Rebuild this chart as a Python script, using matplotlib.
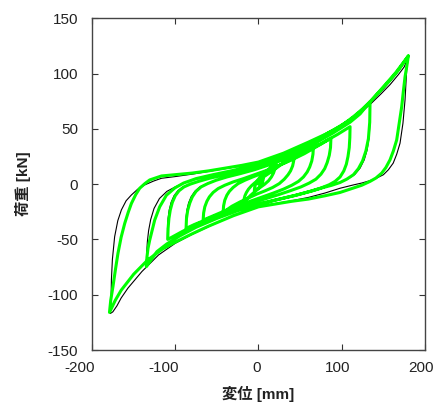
import matplotlib
matplotlib.use('Agg')
import matplotlib.pyplot as plt
import matplotlib.transforms as mtransforms
import numpy as np

plt.rcParams['font.family'] = ['Liberation Sans', 'Noto Sans CJK JP', 'DejaVu Sans']
plt.rcParams['axes.unicode_minus'] = False

# ---- data: (displacement mm, load kN) ----
# analysis (green) branches, in loading order
g_l0 = [(0, 0), (2, 3), (4, 5.5), (6, 7.5)]
g_d1 = [(6, 7.5), (5.6, 4), (4.5, 1), (2.5, -1.5), (0, -3.5), (-3, -5), (-5, -6)]
g_l1 = [(-5, -6), (-4.6, -3), (-3.5, 0), (-1.5, 3), (1.5, 6), (5.5, 9), (10, 12), (15, 15.5),
        (21, 20.5)]
g_d2 = [(21, 20.5), (20.6, 17), (19.6, 13.5), (18, 10), (15.5, 6.5), (12, 3), (7.5, 0), (2, -3),
        (-4, -6.5), (-10, -10.5), (-15, -14.5), (-18, -18)]
g_l2 = [(-18, -18), (-17.5, -14), (-16.3, -10.5), (-14.5, -7.5), (-12, -4.5), (-8.5, -1.5),
        (-4, 1.5), (2, 4.5), (9, 8), (17, 12), (25, 16.5), (34, 22), (43, 27.5)]
g_d3 = [(43, 27.5), (42.4, 21.5), (41, 16.5), (38.5, 12), (35.5, 8.5), (31, 4.5), (25, 0.5),
        (17, -3), (8, -6), (-2, -9), (-12, -12.5), (-22, -16), (-32, -20), (-42.5, -25.5)]
g_l3 = [(-42.5, -25.5), (-41.9, -19.5), (-40.5, -14.5), (-38, -10), (-35, -6.5), (-30.5, -3),
        (-24.5, 0.5), (-16.5, 3.5), (-7, 6.5), (5, 10), (18, 14.5), (32, 19.5), (45, 24.5), (56, 29),
        (66, 34)]
g_d4 = [(66, 34), (65.4, 27), (64, 21), (61.5, 15.5), (58.5, 11), (54, 6.5), (48, 2.5), (40, -1),
        (30, -4.5), (18, -8), (5, -11.5), (-10, -15.5), (-25, -19.5), (-40, -24), (-54, -28.5),
        (-66.5, -32.5)]
g_l4 = [(-66.5, -32.5), (-65.9, -26), (-64.5, -20.5), (-62, -15.5), (-59, -11.5), (-54.5, -7.5),
        (-48.5, -4), (-40.5, -1), (-30.5, 2), (-18, 5), (-5, 8.5), (10, 12.5), (25, 17), (40, 22),
        (55, 27.5), (70, 34), (87, 41.5)]
g_d5 = [(87, 41.5), (86.5, 33), (85, 26), (82.5, 19.5), (79.5, 14), (75, 9), (69, 4.5), (61, 1),
        (51, -2.5), (38, -6), (22, -10), (5, -14), (-12, -18), (-30, -22.5), (-48, -27.5),
        (-64, -32.5), (-77, -36.5), (-87, -40)]
g_l5 = [(-87, -40), (-86.5, -31), (-85, -23.5), (-82.5, -17), (-79.5, -11.5), (-75, -6.5),
        (-69, -2.5), (-61, 0.5), (-51, 3.5), (-38, 6.5), (-22, 9.5), (-5, 13), (15, 18), (35, 23.5),
        (55, 29.5), (75, 36.5), (95, 45), (110, 52)]
g_d6 = [(110, 52), (109.7, 42), (109, 33), (107.5, 25), (105.5, 18), (102.5, 12), (98, 6.5),
        (92, 2.5), (85, -0.5), (75, -3.5), (62, -6.5), (45, -10), (25, -13.5), (5, -17), (-15, -21),
        (-35, -25.5), (-55, -30.5), (-75, -36.5), (-92, -43), (-109, -50)]
g_l6 = [(-109, -50), (-108.6, -40), (-107.6, -31), (-106, -23.5), (-103.5, -16.5), (-100, -10.5),
        (-95.5, -6), (-89.5, -2.5), (-82, 0), (-72, 2.5), (-58, 5.5), (-40, 8.5), (-20, 12),
        (0, 16.5), (30, 24), (60, 33.5), (90, 46.5), (110, 56), (122, 63.5), (134, 74.5)]
g_d7 = [(134, 74.5), (133.6, 56), (132, 41), (129, 30), (125, 21), (120, 14), (114, 8.5), (106, 4.5),
        (98, 1.5), (88, -1), (78, -3), (65, -6), (45, -10), (20, -14.5), (0, -18.5), (-25, -24),
        (-50, -31), (-75, -39), (-95, -47), (-110, -54), (-122, -61), (-134.7, -74.6)]
g_l7 = [(-134.7, -74.6), (-134, -66), (-132.7, -58), (-130.8, -51), (-128.5, -44), (-124.7, -32.5),
        (-118.7, -20.5), (-110.6, -10), (-100.6, -3.5), (-90, 1), (-75, 5), (-55, 8.5), (-30, 12.5),
        (0, 18), (30, 26), (60, 36), (90, 49), (110, 58), (122, 65.5), (134, 74.5), (150, 88),
        (165, 101), (180, 116)]
g_d8 = [(180, 116), (178, 106), (176, 97), (174, 84), (172, 70), (169, 55), (166, 40), (162, 30),
        (158, 22), (153, 15), (148, 10), (141, 5.5), (134, 2.5), (124, -1), (114, -3.5), (98, -7.5),
        (80, -10.5), (60, -13.5), (40, -15.5), (20, -18), (0, -20.5), (-30, -28.5), (-60, -38),
        (-80, -45), (-100, -52.5), (-115, -58.5), (-133, -68.5), (-150, -81.5), (-165, -96),
        (-172, -105), (-179, -116)]
g_l9 = [(-179, -116), (-177.5, -105), (-174.8, -92.5), (-171.8, -77), (-168.8, -62.5), (-165, -48),
        (-160.7, -35.5), (-156.5, -25.5), (-152.7, -17.5), (-147.5, -9.5), (-142.7, -3.7),
        (-136.5, 0.5), (-130.7, 3.8), (-116.6, 7.4), (-100.6, 8.5), (-80, 10), (-60, 12), (-40, 14.5),
        (-20, 17), (0, 20), (30, 28), (60, 38), (80, 45), (98, 52), (114, 61), (125, 68), (136, 76),
        (147, 85), (158, 94), (168, 103), (180, 116)]

# test (black) branches where they part from the green ones
b_l5 = [(-87.5, -40), (-87.2, -31), (-86, -23.5), (-84, -17), (-81, -11.5), (-76.5, -6.5),
        (-70.5, -2.5), (-62, 0.5), (-51, 3.5), (-38, 6.5), (-22, 9.5), (-5, 13), (15, 18), (35, 23.5),
        (55, 29.5), (75, 36.5), (95, 45), (110, 52)]
b_l6 = [(-109.5, -50), (-109.3, -40), (-108.6, -31), (-107.3, -23.5), (-105, -16.5), (-101.5, -10.5),
        (-97, -6), (-91, -2.5), (-83, 0), (-72, 2.5), (-58, 5.5), (-40, 8.5), (-20, 12), (0, 16.5),
        (30, 24), (60, 33.5), (90, 46.5), (110, 56), (122, 63.5), (134, 74)]
b_d7 = [(134, 74), (134, 58), (133, 43), (130.5, 31), (127, 22), (122, 14.5), (116, 9), (108, 5),
        (99, 2), (88, -1), (78, -3), (65, -6), (45, -10), (20, -14.5), (0, -18.5), (-25, -24),
        (-50, -31), (-75, -39), (-95, -47), (-110, -54), (-122, -61), (-134.7, -74)]
b_l7 = [(-134.7, -74), (-134.3, -62), (-133.5, -52), (-132, -42), (-129.5, -32), (-125.5, -22),
        (-119, -13), (-110, -6.5), (-100, -2.5), (-90, 1), (-75, 4.5), (-55, 8), (-30, 12.5),
        (0, 17.5), (30, 25.5), (60, 35.5), (90, 48.5), (110, 57.5), (122, 65), (134, 73.5),
        (150, 86), (165, 99), (180, 115)]
b_d8 = [(180, 115), (179, 109), (178, 103), (177, 90), (176, 76), (173.5, 55), (170, 37), (166, 27),
        (161.8, 19), (156, 13), (150, 8.5), (142, 5.5), (134, 3.2), (124, 1), (114, -0.7), (98, -3.7),
        (80, -8), (60, -12), (40, -15), (20, -17.5), (0, -20), (-30, -28), (-60, -38.5), (-80, -45.5),
        (-100, -53.5), (-120, -64), (-140, -79), (-156.8, -94), (-165, -103), (-170, -110),
        (-175, -115.5), (-178, -117)]
b_l9 = [(-178, -117), (-177.5, -112), (-177, -100), (-176.7, -86.6), (-175.5, -68), (-172.8, -47.5),
        (-169, -33), (-164.7, -23.3), (-159, -15), (-152.7, -9.8), (-145, -4.5), (-136.7, -0.7),
        (-126, 2.8), (-116.6, 5.3), (-100.6, 6.8), (-80, 9), (-60, 11.5), (-40, 14), (-20, 16.5),
        (0, 19.5), (30, 27), (60, 37), (80, 44), (98, 51), (114, 59.5), (125, 66), (136, 73.5),
        (147, 81.5), (158, 90), (168, 99), (175, 106), (180, 115)]

green_path = [g_l0, g_d1, g_l1, g_d2, g_l2, g_d3, g_l3, g_d4, g_l4, g_d5, g_l5, g_d6, g_l6, g_d7,
              g_l7, g_d8, g_l9]
black_path = [g_l0, g_d1, g_l1, g_d2, g_l2, g_d3, g_l3, g_d4, g_l4, g_d5, b_l5, g_d6, b_l6, b_d7,
              b_l7, b_d8, b_l9]

x_ticks = [-200, -100, 0, 100, 200]
y_ticks = [-150, -100, -50, 0, 50, 100, 150]


def join(branches):
    pts = np.array([p for br in branches for p in br], dtype=float)
    return pts[:, 0], pts[:, 1]


fig = plt.figure(figsize=(4.35, 4.03), dpi=100)
ax = fig.add_axes([0.2115, 0.1315, 0.7655, 0.8231])

bx, by = join(black_path)
gx, gy = join(green_path)
ax.plot(bx, by, color='k', lw=0.8, solid_joinstyle='round')
ax.plot(gx, gy, color='#00ff00', lw=2.2, solid_joinstyle='round', solid_capstyle='round')

ax.set_xlim(-200, 200)
ax.set_ylim(-150, 150)
ax.set_xticks(x_ticks)
ax.set_yticks(y_ticks)
ax.tick_params(direction='in', top=True, right=True, length=4, width=0.8,
               labelsize=11, colors='#333333', labelcolor='#222222')
ax.tick_params(axis='x', pad=8)
ax.tick_params(axis='y', pad=10)
for s in ax.spines.values():
    s.set_color('#444444')
    s.set_linewidth(1.0)

# the x labels in the reference sit a little left of their ticks
for val, lab in zip(x_ticks, ax.get_xticklabels()):
    dx = -12 if val < 0 else (-2 if val == 0 else -4)
    shift = mtransforms.ScaledTranslation(dx / 100, 0, fig.dpi_scale_trans)
    lab.set_transform(lab.get_transform() + shift)

ax.set_xlabel('変位 [mm]', fontsize=11, fontweight='bold', color='#222222', labelpad=8)
ax.set_ylabel('荷重 [kN]', fontsize=11, fontweight='bold', color='#222222', labelpad=12)

fig.savefig('out.png', dpi=100)
